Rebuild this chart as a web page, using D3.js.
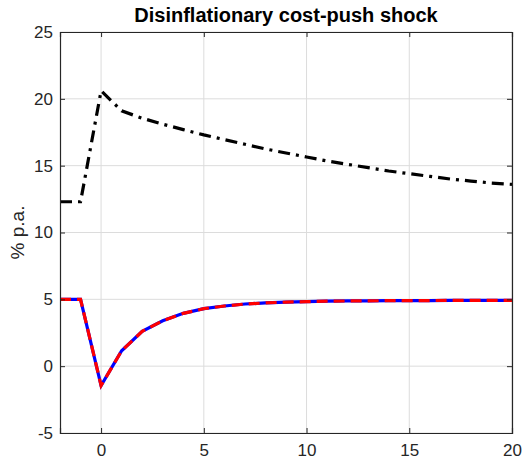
<!DOCTYPE html>
<html><head><meta charset="utf-8">
<script src="https://cdn.jsdelivr.net/npm/d3@7"></script>
<style>body{margin:0;background:#fff;font-family:"Liberation Sans",Arial,sans-serif;}</style>
</head><body><svg id="c" width="525" height="460"></svg>
<script>
const periods = [-2,-1,0,1,2,3,4,5,6,7,8,9,10,11,12,13,14,15,16,17,18,19,20];
const rateBlack = [12.3,12.3,20.6,19.1,18.55,18.1,17.7,17.3,16.95,16.6,16.25,15.95,15.65,15.35,15.1,14.85,14.6,14.4,14.2,14.0,13.85,13.7,13.6];
const seriesBlue = [5,5,-1.45,1.15,2.6,3.4,3.95,4.3,4.5,4.65,4.73,4.79,4.83,4.86,4.88,4.89,4.9,4.91,4.91,4.92,4.92,4.92,4.92];
const seriesRed = seriesBlue.slice();
const xTicks = [0,5,10,15,20];
const yTicks = [-5,0,5,10,15,20,25];
const title = "Disinflationary cost-push shock";
const yLabel = "% p.a.";

const svg = d3.select("#c");
const L=60,R=512,T=32,B=433;
const x = d3.scaleLinear().domain([-2,20]).range([L,R]);
const y = d3.scaleLinear().domain([-5,25]).range([B,T]);
const axCol="#262626";

// grid
svg.append("g").selectAll("line").data(xTicks).join("line")
 .attr("x1",d=>x(d)).attr("x2",d=>x(d)).attr("y1",T).attr("y2",B)
 .attr("stroke","#dcdcdc").attr("stroke-width",1);
svg.append("g").selectAll("line").data(yTicks).join("line")
 .attr("y1",d=>y(d)).attr("y2",d=>y(d)).attr("x1",L).attr("x2",R)
 .attr("stroke","#dcdcdc").attr("stroke-width",1);

const line = vals => d3.line().x((d,i)=>x(periods[i])).y(d=>y(d))(vals);
svg.append("path").attr("d",line(seriesBlue)).attr("fill","none").attr("stroke","#0000ff").attr("stroke-width",3.2);
svg.append("path").attr("d",line(seriesRed)).attr("fill","none").attr("stroke","#ff0000").attr("stroke-width",3.2).attr("stroke-dasharray","11,6");
svg.append("path").attr("d",line(rateBlack)).attr("fill","none").attr("stroke","#000").attr("stroke-width",3.2).attr("stroke-dasharray","12,6,3,6");

// axes
const fmt = d => String(d);
const ax = d3.axisBottom(x).tickValues(xTicks).tickSize(-5).tickPadding(11).tickFormat(fmt);
svg.append("g").attr("transform",`translate(0,${B})`).call(ax);
const ay = d3.axisLeft(y).tickValues(yTicks).tickSize(-5).tickPadding(7).tickFormat(fmt);
svg.append("g").attr("transform",`translate(${L},0)`).call(ay);
svg.append("g").attr("transform",`translate(0,${T})`).call(d3.axisTop(x).tickValues(xTicks).tickSize(-5).tickFormat(""));
svg.append("g").attr("transform",`translate(${R},0)`).call(d3.axisRight(y).tickValues(yTicks).tickSize(-5).tickFormat(""));
svg.selectAll(".domain").attr("stroke",axCol).attr("stroke-width",1.2);
svg.selectAll(".tick line").attr("stroke",axCol);
svg.selectAll(".tick text").attr("fill",axCol).style("font-family","'Liberation Sans',Arial,sans-serif").style("font-size","17px");

svg.append("text").attr("x",(L+R)/2).attr("y",21.5).attr("text-anchor","middle")
 .style("font-weight","bold").style("font-size","20px").attr("fill","#000").text(title);
svg.append("text").attr("transform",`translate(24,${(T+B)/2}) rotate(-90)`).attr("text-anchor","middle")
 .style("font-size","19px").attr("fill",axCol).text(yLabel);
</script></body></html>
